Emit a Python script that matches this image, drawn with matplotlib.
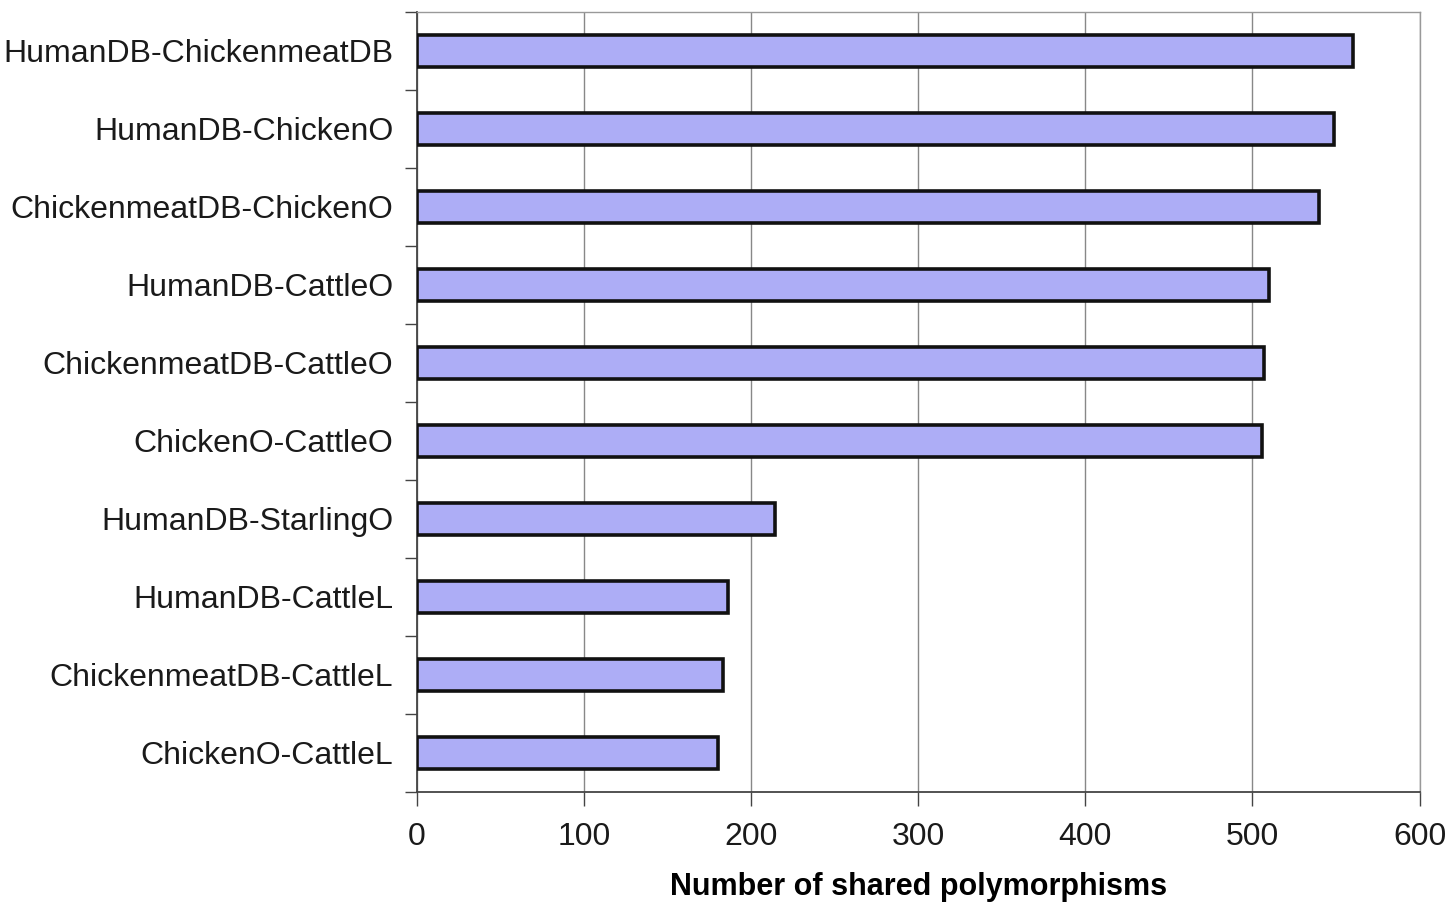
import matplotlib
matplotlib.use("Agg")
import matplotlib.pyplot as plt

# Shared polymorphisms between pairs of sample sets
pairs = [
    "HumanDB-ChickenmeatDB",
    "HumanDB-ChickenO",
    "ChickenmeatDB-ChickenO",
    "HumanDB-CattleO",
    "ChickenmeatDB-CattleO",
    "ChickenO-CattleO",
    "HumanDB-StarlingO",
    "HumanDB-CattleL",
    "ChickenmeatDB-CattleL",
    "ChickenO-CattleL",
]
shared = [560, 549, 540, 510, 507, 506, 214, 186, 183, 180]
x_ticks = [0, 100, 200, 300, 400, 500, 600]

plt.rcParams["font.family"] = ["Liberation Sans", "DejaVu Sans"]

fig = plt.figure(figsize=(14.5, 9.08), dpi=100)
ax = fig.add_axes([0.2876, 0.128, 0.6914, 0.859])

ypos = list(range(len(pairs)))
ax.barh(ypos, shared, height=0.41, color="#ADADF6", edgecolor="#111111",
        linewidth=2.6, zorder=3)

ax.set_xlim(0, 600)
ax.set_ylim(len(pairs) - 0.5, -0.5)
ax.set_xticks(x_ticks)
ax.set_xticklabels([str(t) for t in x_ticks], fontsize=23, color="#1a1a1a")
ax.set_yticks(ypos)
ax.set_yticklabels(pairs, fontsize=23, color="#1a1a1a")
ax.tick_params(axis="y", length=0, pad=17)
ax.tick_params(axis="x", length=10, width=1.0, color="#444444", pad=12)

# boundary ticks between categories on the left axis
ax.set_yticks([i - 0.5 for i in range(len(pairs) + 1)], minor=True)
ax.tick_params(axis="y", which="minor", length=9, width=1.0, color="#444444")

ax.grid(axis="x", color="#888888", linewidth=1.0, zorder=0)

for side in ("top", "right"):
    ax.spines[side].set_color("#999999")
    ax.spines[side].set_linewidth(1.0)
for side in ("left", "bottom"):
    ax.spines[side].set_color("#444444")
    ax.spines[side].set_linewidth(1.3)

ax.set_xlabel("Number of shared polymorphisms", fontsize=22, fontweight="bold",
              labelpad=14, color="#000000")

fig.savefig("out.png", dpi=100, facecolor="white")
